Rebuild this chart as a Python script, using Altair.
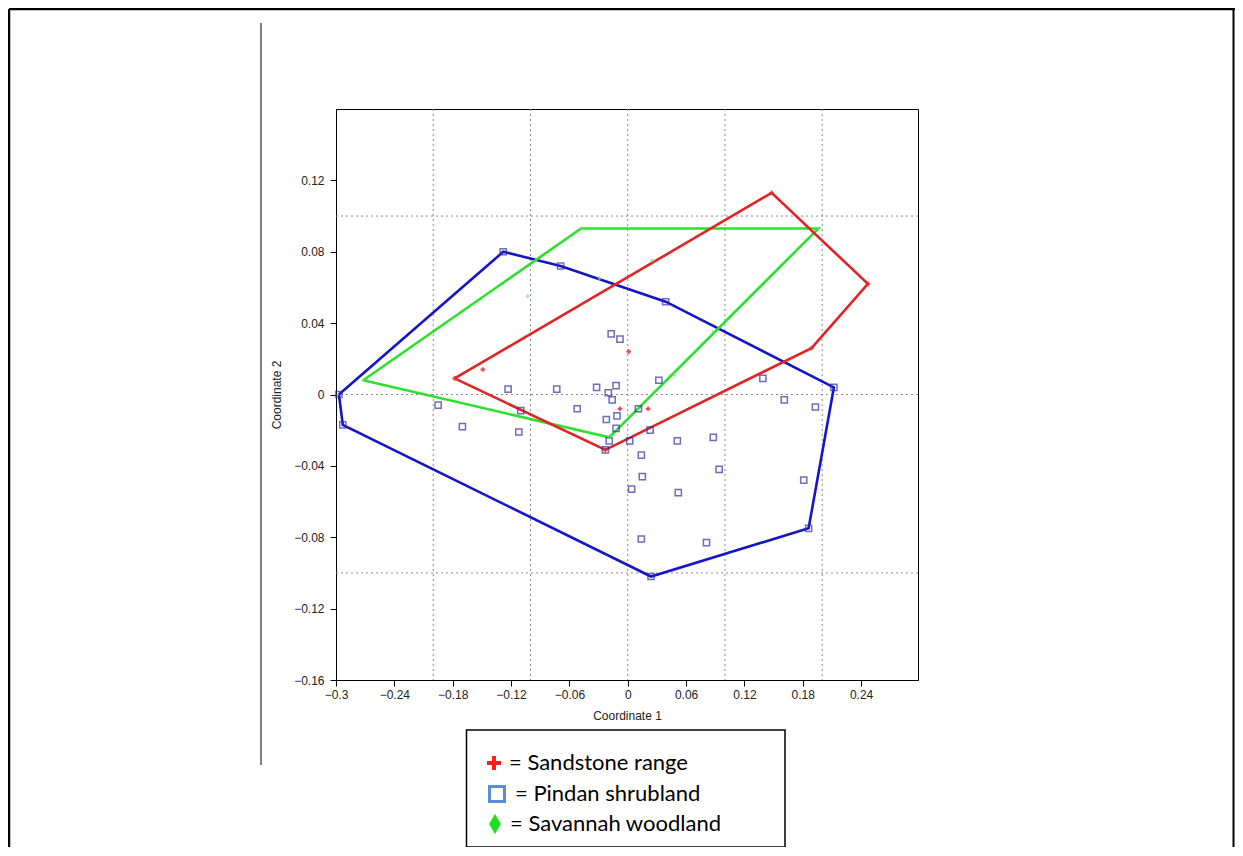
import altair as alt
import pandas as pd

# ---------------- data ----------------
pindan_x = [-0.297, -0.293, 0.024, 0.186, 0.212, 0.039, -0.069, -0.128,
            -0.017, -0.008, -0.123, -0.073, -0.032, -0.012, -0.020, -0.016,
            -0.195, -0.110, -0.052, -0.022, -0.011, -0.170, -0.112, -0.012,
            -0.019, -0.023, 0.002, 0.011, 0.023, 0.032, 0.014, 0.015, 0.004,
            0.051, 0.088, 0.094, 0.052, 0.014, 0.081, 0.181, 0.161, 0.193, 0.139]
pindan_y = [0.000, -0.017, -0.102, -0.075, 0.004, 0.052, 0.072, 0.080,
            0.034, 0.031, 0.003, 0.003, 0.004, 0.005, 0.001, -0.003,
            -0.006, -0.009, -0.008, -0.014, -0.012, -0.018, -0.021, -0.019,
            -0.026, -0.031, -0.026, -0.008, -0.020, 0.008, -0.034, -0.046, -0.053,
            -0.026, -0.024, -0.042, -0.055, -0.081, -0.083, -0.048, -0.003, -0.007, 0.009]

sand_x = [-0.178, -0.023, 0.189, 0.247, 0.148, -0.149, 0.001, -0.008, 0.021]
sand_y = [0.009, -0.031, 0.026, 0.062, 0.113, 0.014, 0.024, -0.008, -0.008]

sav_x = [-0.272, -0.019, 0.196, -0.048, -0.103, 0.025, -0.029, 0.088, 0.048]
sav_y = [0.008, -0.024, 0.093, 0.093, 0.055, 0.075, 0.065, 0.035, 0.011]

# convex hull vertices (in drawing order)
pindan_hull_x = [-0.297, -0.293, 0.024, 0.186, 0.212, 0.039, -0.069, -0.128]
pindan_hull_y = [0.000, -0.017, -0.102, -0.075, 0.004, 0.052, 0.072, 0.080]
sand_hull_x = [-0.178, -0.023, 0.189, 0.247, 0.148]
sand_hull_y = [0.009, -0.031, 0.026, 0.062, 0.113]
sav_hull_x = [-0.272, -0.019, 0.196, -0.048]
sav_hull_y = [0.008, -0.024, 0.093, 0.093]

groups = ["Pindan shrubland", "Savannah woodland", "Sandstone range"]
group_colors = ["#1414c8", "#2ee02e", "#e02424"]

x_ticks = [-0.3, -0.24, -0.18, -0.12, -0.06, 0, 0.06, 0.12, 0.18, 0.24]
y_ticks = [-0.16, -0.12, -0.08, -0.04, 0, 0.04, 0.08, 0.12]
grid_x = [-0.2, -0.1, 0, 0.1, 0.2]
grid_y = [-0.1, 0, 0.1]

legend_labels = ["= Sandstone range", "= Pindan shrubland", "= Savannah woodland"]

# ---------------- tables ----------------
rows = []
for name, hx, hy in [("Pindan shrubland", pindan_hull_x, pindan_hull_y),
                     ("Savannah woodland", sav_hull_x, sav_hull_y),
                     ("Sandstone range", sand_hull_x, sand_hull_y)]:
    for i, (a, b) in enumerate(zip(hx + [hx[0]], hy + [hy[0]])):
        rows.append({"group": name, "order": i, "x": a, "y": b})
hulls = pd.DataFrame(rows)

pindan = pd.DataFrame({"x": pindan_x, "y": pindan_y})
sand = pd.DataFrame({"x": sand_x, "y": sand_y})
sav = pd.DataFrame({"x": sav_x, "y": sav_y})
gx = pd.DataFrame({"x": grid_x})
gy = pd.DataFrame({"y": grid_y})
one = pd.DataFrame({"k": [0]})

X = alt.X("x:Q",
          scale=alt.Scale(domain=[-0.3, 0.2985], nice=False, zero=False),
          axis=alt.Axis(values=x_ticks, format="~g", title="Coordinate 1",
                        grid=False, tickSize=6, labelPadding=3, titlePadding=10,
                        labelFlush=False, labelOverlap=False))
Y = alt.Y("y:Q",
          scale=alt.Scale(domain=[-0.16, 0.16], nice=False, zero=False),
          axis=alt.Axis(values=y_ticks, format="~g", title="Coordinate 2",
                        grid=False, tickSize=6, labelPadding=6, titlePadding=10,
                        labelFlush=False, labelOverlap=False))

grid_v = alt.Chart(gx).mark_rule(color="#8a8a8a", strokeDash=[2, 3], strokeWidth=1).encode(x=X)
grid_h = alt.Chart(gy).mark_rule(color="#8a8a8a", strokeDash=[2, 3], strokeWidth=1).encode(y=Y)

hull_lines = alt.Chart(hulls).mark_line(strokeWidth=2.6).encode(
    x=X, y=Y,
    color=alt.Color("group:N", scale=alt.Scale(domain=groups, range=group_colors), legend=None),
    detail="group:N",
    order="order:Q",
)

pts_pindan = alt.Chart(pindan).mark_point(shape="square", filled=False, color="#3030a0",
                                          size=38, strokeWidth=1.5).encode(x=X, y=Y)
pts_sand = alt.Chart(sand).mark_point(shape="cross", filled=True, color="#e03030",
                                      size=22, opacity=0.85).encode(x=X, y=Y)
pts_sav = alt.Chart(sav).mark_point(shape="diamond", filled=True, color="#6fd86f",
                                    size=18, opacity=0.7).encode(x=X, y=Y)

# ---------------- page decorations (pixel positions relative to plot origin) ----------------
def vline(x, y1, y2, w):
    return alt.Chart(one).mark_rule(color="black", strokeWidth=w).encode(
        x=alt.value(x), y=alt.value(y1), y2=alt.value(y2))

def hline(x1, x2, y, w):
    return alt.Chart(one).mark_rule(color="black", strokeWidth=w).encode(
        x=alt.value(x1), x2=alt.value(x2), y=alt.value(y))

frame_top = hline(-327, 899, -100, 2.5)
frame_left = vline(-327, -100, 740, 2.5)
frame_right = vline(897.5, -100, 740, 2)
sep_line = vline(-75, -86, 656, 1)

legend_box = alt.Chart(one).mark_rect(fill="white", stroke="black", strokeWidth=1.5).encode(
    x=alt.value(130.5), x2=alt.value(449), y=alt.value(621), y2=alt.value(738))

plus_path = "M-1,-0.28H-0.28V-1H0.28V-0.28H1V0.28H0.28V1H-0.28V0.28H-1Z"
diamond_path = "M0,-1L0.6,0L0,1L-0.6,0Z"

leg_cross = alt.Chart(one).mark_point(shape=plus_path, filled=True, color="#ff1a1a",
                                      size=196, opacity=1).encode(x=alt.value(158), y=alt.value(654))
leg_square = alt.Chart(one).mark_point(shape="square", filled=True, fill="white",
                                       stroke="#5b8ed6", strokeWidth=3, size=225,
                                       opacity=1).encode(x=alt.value(161), y=alt.value(685))
leg_diamond = alt.Chart(one).mark_point(shape=diamond_path, filled=True, color="#1ee01e",
                                        size=400, opacity=1).encode(x=alt.value(159), y=alt.value(715))

def leg_text(x, y, t):
    return alt.Chart(one).mark_text(align="left", baseline="middle", font="Lato",
                                    fontSize=22, color="black", text=t).encode(
        x=alt.value(x), y=alt.value(y))

t1 = leg_text(173, 654, legend_labels[0])
t2 = leg_text(179, 685, legend_labels[1])
t3 = leg_text(174, 715, legend_labels[2])

chart = alt.layer(
    grid_v, grid_h, hull_lines, pts_pindan, pts_sand, pts_sav,
    frame_top, frame_left, frame_right, sep_line,
    legend_box, leg_cross, leg_square, leg_diamond, t1, t2, t3,
).properties(
    width=582, height=571,
    autosize=alt.AutoSizeParams(type="none"),
    padding={"left": 328, "top": 101, "right": 317, "bottom": 167},
    background="white",
).configure_view(
    stroke="black", strokeWidth=1
).configure_axis(
    domainColor="black", tickColor="black", labelColor="#222222", titleColor="#222222",
    labelFont="Liberation Sans", titleFont="Liberation Sans",
    labelFontSize=12, titleFontSize=12, titleFontWeight="normal",
)

chart.save("out.html", embed_options={"renderer": "svg", "actions": False})
